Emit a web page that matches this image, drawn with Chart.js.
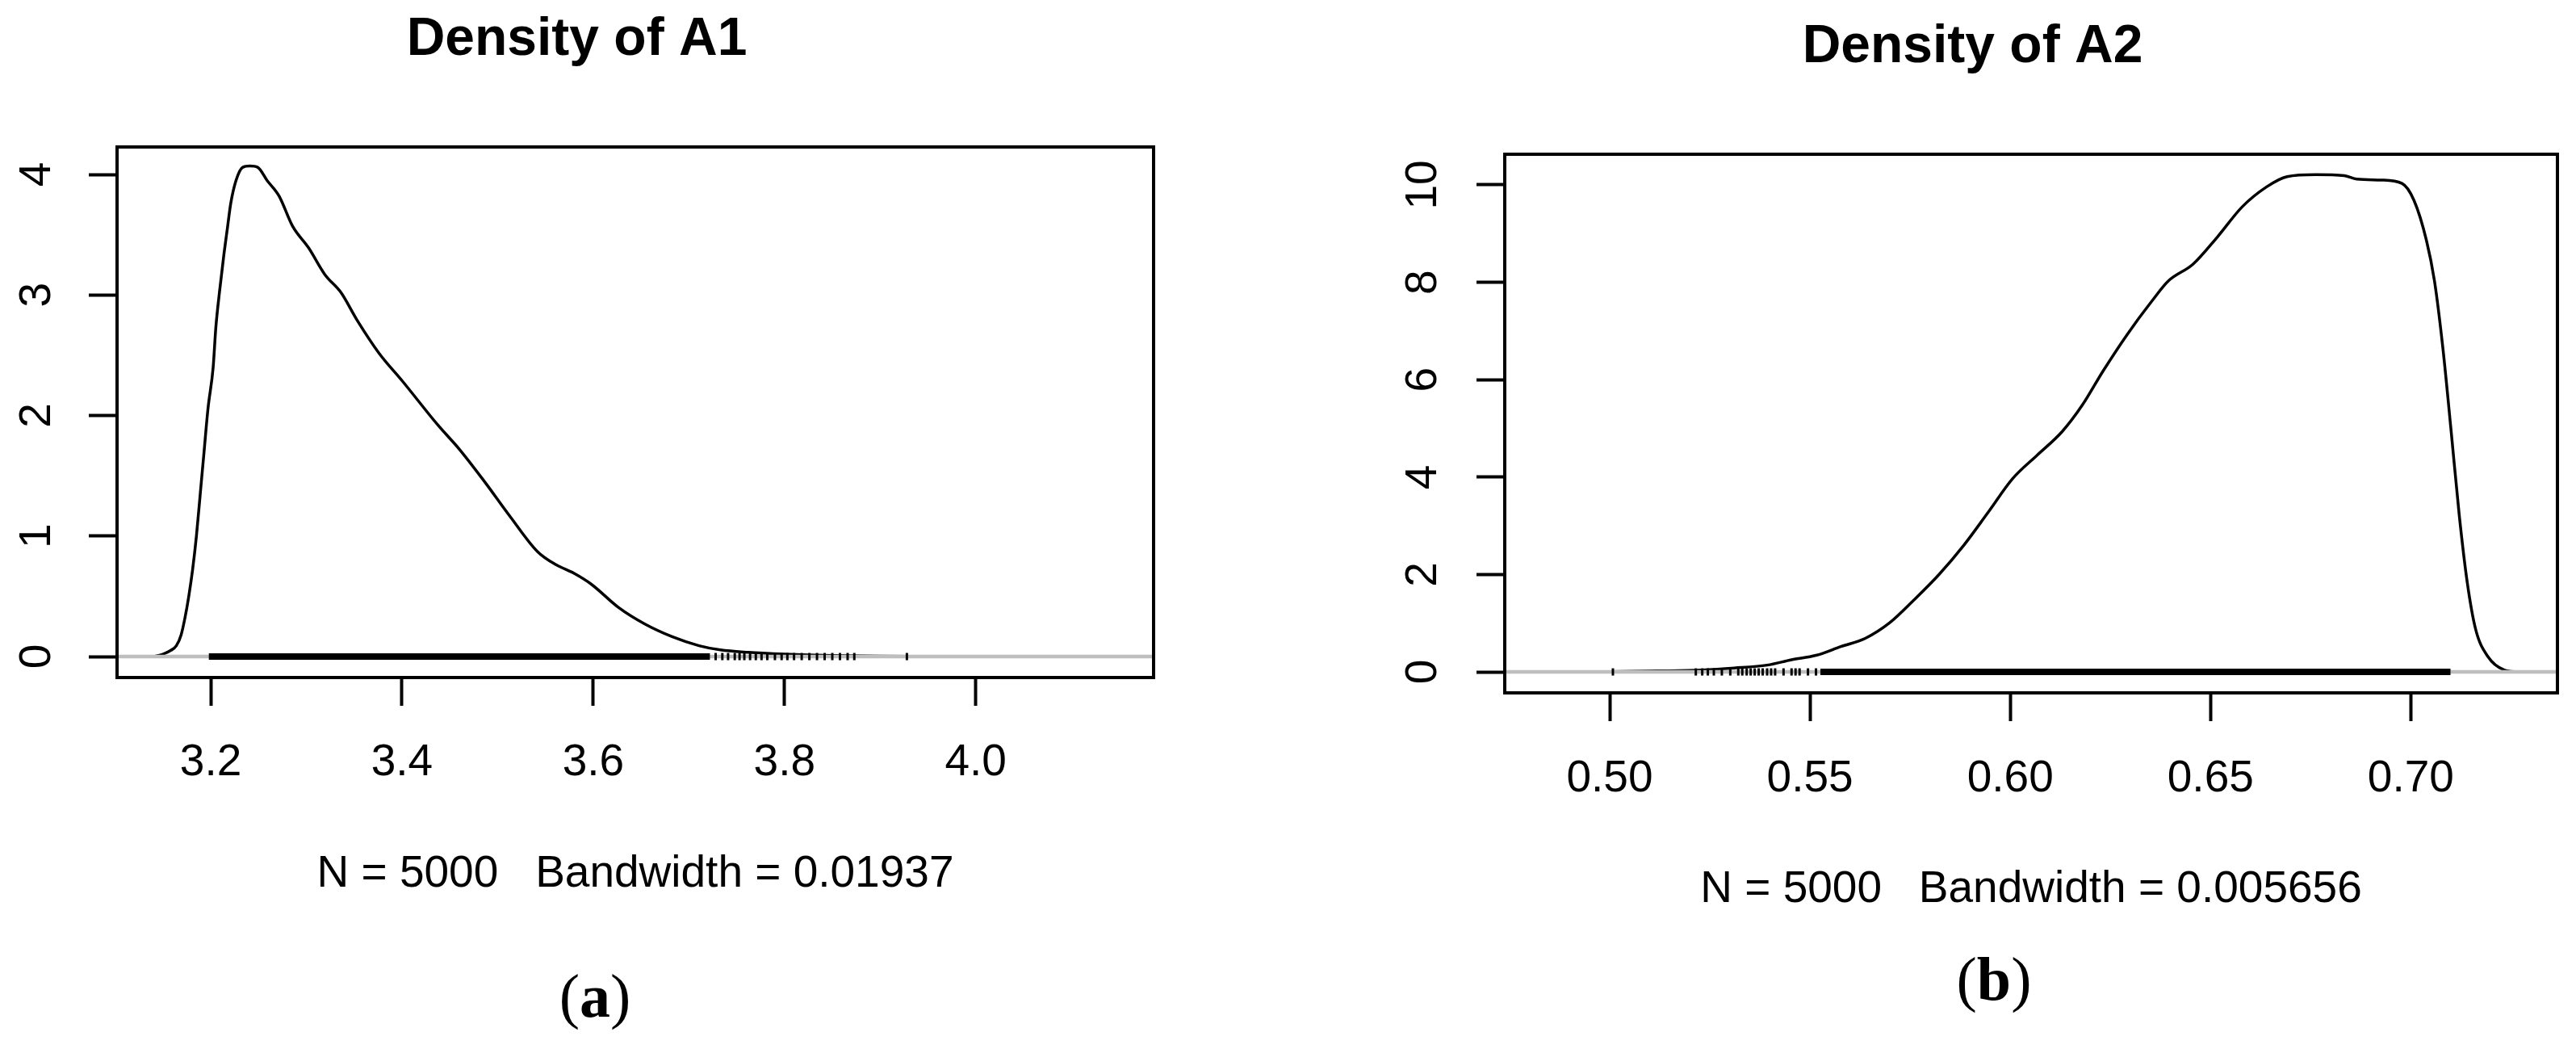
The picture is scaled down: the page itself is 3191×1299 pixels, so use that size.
<!DOCTYPE html>
<html>
<head>
<meta charset="utf-8">
<script src="https://cdn.jsdelivr.net/npm/chart.js@4.4.1/dist/chart.umd.min.js"></script>
<style>
  html, body { margin: 0; padding: 0; background: #fff; overflow: hidden; }
  body { width: 3191px; height: 1299px; position: relative; }
  .panel { position: absolute; top: 0; height: 1299px; overflow: hidden; }
  .panel canvas { display: block; }
  .cap { position: absolute; transform: translate(-50%, -50%); font-family: "Liberation Serif", "Times New Roman", serif; font-size: 76px; color: #000; white-space: nowrap; }
</style>
</head>
<body>
<div class="panel" style="left:0; width:1574px"><canvas id="chartA1" width="1574" height="1299"></canvas></div>
<div class="panel" style="left:1719px; width:1472px"><canvas id="chartA2" width="1594" height="1299"></canvas></div>
<div class="cap" style="left:737px; top:1233px">(<b>a</b>)</div>
<div class="cap" style="left:2470px; top:1212px">(<b>b</b>)</div>
<script>
// A1 density curve
const a1X = [3.140, 3.150, 3.158, 3.164, 3.169, 3.173, 3.177, 3.181, 3.185, 3.189, 3.193, 3.197,
  3.2025, 3.2053, 3.2095, 3.2138, 3.2175, 3.2209, 3.2264, 3.2335, 3.241, 3.249, 3.2589, 3.2715,
  3.2856, 3.3024, 3.3193, 3.3362, 3.3531, 3.3757, 3.401, 3.4376, 3.46, 3.4855, 3.5136, 3.5418,
  3.5615, 3.580, 3.598, 3.626, 3.654, 3.6825, 3.7107, 3.733, 3.762, 3.800, 3.850, 3.900, 3.950,
  4.050, 4.146];
const a1Y = [0, 0.02, 0.05, 0.09, 0.18, 0.32, 0.50, 0.72, 1.00, 1.35, 1.70, 2.05,
  2.40, 2.73, 3.05, 3.34, 3.56, 3.76, 3.95, 4.06, 4.07, 4.06, 3.95, 3.82,
  3.57, 3.39, 3.17, 3.02, 2.79, 2.52, 2.28, 1.92, 1.72, 1.46, 1.156, 0.87,
  0.76, 0.69, 0.60, 0.41, 0.27, 0.165, 0.09, 0.055, 0.035, 0.02, 0.008, 0.003, 0.002,
  0, 0];
const a1RugBand = [3.198, 3.722];
const a1RugTicks = [3.728, 3.735, 3.741, 3.748, 3.753, 3.758, 3.764, 3.770, 3.776, 3.782, 3.790,
  3.797, 3.803, 3.810, 3.818, 3.826, 3.834, 3.842, 3.850, 3.858, 3.866, 3.873, 3.928];
const a1XTicks = [3.2, 3.4, 3.6, 3.8, 4.0];
const a1YTicks = [0, 1, 2, 3, 4];
const a1XRange = [3.102, 4.186];
const a1YRange = [-0.174, 4.228];

// A2 density curve
const a2X = [0.4835, 0.500, 0.512, 0.5229, 0.5311, 0.5393, 0.5454, 0.5515, 0.5577, 0.5638, 0.5699,
  0.5761, 0.5822, 0.5883, 0.5945, 0.6006, 0.6067, 0.6129, 0.6180, 0.6231, 0.6292, 0.6354, 0.6395,
  0.6456, 0.6517, 0.6579, 0.6640, 0.6691, 0.6763, 0.6834, 0.6865, 0.6926, 0.6978, 0.7008, 0.7039,
  0.7059, 0.7080, 0.7100, 0.7121, 0.7141, 0.7162, 0.7192, 0.7233, 0.7269];
const a2Y = [0, 0.005, 0.02, 0.04, 0.08, 0.14, 0.25, 0.34, 0.52, 0.69, 1.01,
  1.49, 2.00, 2.59, 3.28, 3.97, 4.45, 4.93, 5.48, 6.17, 6.93, 7.62, 8.03,
  8.37, 8.93, 9.55, 9.96, 10.17, 10.21, 10.19, 10.12, 10.10, 10.03, 9.68, 8.86,
  8.03, 6.65, 5.00, 3.21, 1.83, 0.87, 0.32, 0.04, 0];
const a2RugBand = [0.5526, 0.7099];
const a2RugTicks = [0.5008, 0.5215, 0.5231, 0.5245, 0.5260, 0.5280, 0.5301, 0.5321, 0.5331, 0.5342,
  0.5352, 0.5362, 0.5372, 0.5382, 0.5393, 0.5403, 0.5413, 0.5434, 0.5454, 0.5464, 0.5474, 0.5495, 0.5515];
const a2XTicks = [0.50, 0.55, 0.60, 0.65, 0.70];
const a2YTicks = [0, 2, 4, 6, 8, 10];
const a2XRange = [0.4738, 0.7366];
const a2YRange = [-0.43, 10.63];

Chart.defaults.font.family = '"Liberation Sans", Arial, sans-serif';
Chart.defaults.color = '#000';

// box round the plot region, like R's box()
const frame = {
    id: 'frame',
    afterDatasetsDraw(chart) {
        const { ctx, chartArea: a } = chart;
        ctx.save();
        ctx.strokeStyle = '#000';
        ctx.lineWidth = 4;
        ctx.strokeRect(a.left, a.top, a.right - a.left, a.bottom - a.top);
        ctx.restore();
    }
};

function densityChart(id, p) {
    const pts = (xs, ys) => xs.map((x, i) => ({ x: x, y: ys[i] }));
    const onZero = xs => xs.map(x => ({ x: x, y: 0 }));
    new Chart(document.getElementById(id), {
        type: 'line',
        data: {
            datasets: [
                {
                    data: onZero(p.rugTicks),
                    showLine: false,
                    pointStyle: 'line',
                    pointRotation: 90,
                    pointRadius: 4.5,
                    pointBorderWidth: 3,
                    pointBorderColor: '#000',
                    borderColor: '#000'
                },
                { data: onZero(p.rugBand), borderColor: '#000', borderWidth: 8, borderCapStyle: 'butt', pointRadius: 0 },
                // zero line sits over the curve, so the flat tails vanish into it
                { data: onZero(p.xRange), borderColor: '#bebebe', borderWidth: 4.5, pointRadius: 0 },
                { data: pts(p.xs, p.ys), borderColor: '#000', borderWidth: 3.5, pointRadius: 0, cubicInterpolationMode: 'monotone' }
            ]
        },
        options: {
            responsive: false,
            animation: false,
            layout: { padding: { left: 0, right: p.padRight, top: 0, bottom: p.padBottom } },
            plugins: {
                legend: { display: false },
                tooltip: { enabled: false },
                title: {
                    display: true,
                    text: p.title,
                    color: '#000',
                    font: { size: 66, weight: 'bold' },
                    padding: { top: p.titleTop, bottom: 92.8 }
                }
            },
            scales: {
                x: {
                    type: 'linear',
                    min: p.xRange[0],
                    max: p.xRange[1],
                    afterBuildTicks: s => { s.ticks = p.xTicks.map(v => ({ value: v })); },
                    afterFit: s => { s.height = 277; },
                    ticks: {
                        font: { size: 55 },
                        color: '#000',
                        padding: p.xPad,
                        maxRotation: 0,
                        autoSkip: false,
                        callback: v => v.toFixed(p.xDigits)
                    },
                    grid: { drawOnChartArea: false, tickLength: 35, tickWidth: 4, tickColor: '#000' },
                    border: { display: false },
                    title: { display: true, text: p.sub, color: '#000', font: { size: 55 }, padding: 0 }
                },
                y: {
                    type: 'linear',
                    min: p.yRange[0],
                    max: p.yRange[1],
                    afterBuildTicks: s => { s.ticks = p.yTicks.map(v => ({ value: v })); },
                    afterFit: s => { s.width = 145; },
                    ticks: {
                        font: { size: 55 },
                        color: '#000',
                        padding: p.yPad,
                        minRotation: 90,
                        maxRotation: 90,
                        crossAlign: 'center',
                        autoSkip: false,
                        callback: v => v.toFixed(0)
                    },
                    grid: { drawOnChartArea: false, tickLength: 35, tickWidth: 4, tickColor: '#000' },
                    border: { display: false }
                }
            }
        },
        plugins: [frame]
    });
}

densityChart('chartA1', {
    title: 'Density of A1',
    sub: 'N = 5000   Bandwidth = 0.01937',
    xs: a1X, ys: a1Y,
    rugBand: a1RugBand, rugTicks: a1RugTicks,
    xTicks: a1XTicks, yTicks: a1YTicks,
    xRange: a1XRange, yRange: a1YRange,
    xDigits: 1,
    titleTop: 10, padRight: 145, padBottom: 183,
    xPad: 38, yPad: 48
});

densityChart('chartA2', {
    title: 'Density of A2',
    sub: 'N = 5000   Bandwidth = 0.005656',
    xs: a2X, ys: a2Y,
    rugBand: a2RugBand, rugTicks: a2RugTicks,
    xTicks: a2XTicks, yTicks: a2YTicks,
    xRange: a2XRange, yRange: a2YRange,
    xDigits: 2,
    titleTop: 19, padRight: 145, padBottom: 164,
    xPad: 39, yPad: 35
});
</script>
</body>
</html>
